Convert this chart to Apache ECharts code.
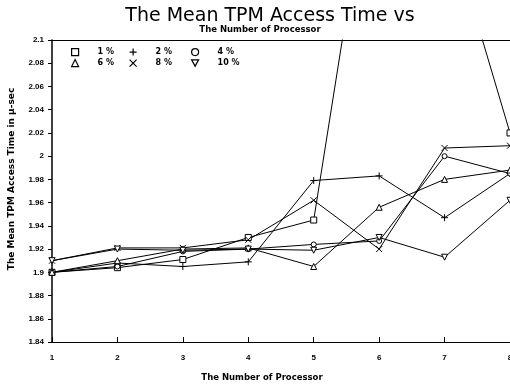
<!DOCTYPE html>
<html><head><meta charset="utf-8">
<script src="https://cdn.jsdelivr.net/npm/echarts@6/dist/echarts.min.js"></script>
<style>html,body{margin:0;padding:0;background:#fff}#c{width:510px;height:387px}</style>
</head><body><div id="c"></div>
<script>
const processors = [1, 2, 3, 4, 5, 6, 7, 8];
const seriesNames = ['1 %', '2 %', '4 %', '6 %', '8 %', '10 %'];
const p1  = [1.900, 1.904, 1.911, 1.930, 1.945, 2.300, 2.210, 2.020];
const p2  = [1.900, 1.908, 1.905, 1.909, 1.979, 1.983, 1.947, 1.985];
const p4  = [1.900, 1.905, 1.918, 1.920, 1.924, 1.927, 2.000, 1.985];
const p6  = [1.900, 1.910, 1.920, 1.921, 1.905, 1.956, 1.980, 1.988];
const p8  = [1.910, 1.921, 1.921, 1.928, 1.962, 1.920, 2.007, 2.009];
const p10 = [1.910, 1.920, 1.919, 1.920, 1.919, 1.930, 1.913, 1.962];
const yTicks = {min: 1.84, max: 2.1, step: 0.02};
const xTicks = {min: 1, max: 8, step: 1};

const values = [p1, p2, p4, p6, p8, p10];
const PLUS = 'path://M5,0L5,10M0,5L10,5';
const CROSS = 'path://M0,0L10,10M10,0L0,10';
const DOWN = 'path://M0,0L10,0L5,9Z';
const symbols = ['rect', PLUS, 'circle', 'triangle', CROSS, DOWN];
const sizes = [6, 7, 5, 6, 6, 6];

const series = seriesNames.map((n, i) => ({
  name: n, type: 'line',
  data: processors.map((x, j) => [x, values[i][j]]),
  symbol: symbols[i], symbolSize: sizes[i],
  showAllSymbol: true, clip: true,
  lineStyle: {color: '#000', width: 1},
  itemStyle: {color: '#fff', borderColor: '#000', borderWidth: 1},
  emphasis: {disabled: true}, animation: false
}));

const legendLeft = [66, 124, 186];
const legends = seriesNames.map((n, i) => ({
  data: [{name: n, icon: symbols[i], itemStyle: {color: '#fff', borderColor: '#000', borderWidth: 1.2}}],
  left: legendLeft[i % 3], top: 43 + Math.floor(i / 3) * 11,
  itemWidth: 7, itemHeight: 7, itemGap: 0, selectedMode: false,
  textStyle: {fontFamily: 'DejaVu Sans', fontSize: 8, fontWeight: 'bold', color: '#000', padding: [0, 0, 0, 14]}
}));

const font = 'DejaVu Sans';
const chart = echarts.init(document.getElementById('c'), null, {renderer: 'canvas'});
chart.setOption({
  backgroundColor: '#fff',
  animation: false,
  title: [
    {text: 'The Mean TPM Access Time vs', left: 265, top: 2, textAlign: 'center',
     textStyle: {fontFamily: 'DejaVu Sans', fontSize: 19, fontWeight: 'normal', color: '#000'}}
  ],
  legend: legends,
  grid: {left: 52, right: 0, top: 40, bottom: 45, containLabel: false, outerBoundsMode: 'none'},
  xAxis: [{
    type: 'value', min: xTicks.min, max: xTicks.max, interval: xTicks.step,
    axisLine: {lineStyle: {color: '#000', width: 1}},
    axisTick: {inside: true, length: 5, lineStyle: {color: '#000'}},
    axisLabel: {fontFamily: 'Liberation Sans', fontSize: 8, fontWeight: 'bold', color: '#000', margin: 12},
    splitLine: {show: false}
  }, {
    type: 'value', position: 'top', min: xTicks.min, max: xTicks.max,
    axisLine: {show: true, lineStyle: {color: '#000', width: 1}},
    axisTick: {show: false}, axisLabel: {show: false}, splitLine: {show: false}
  }],
  yAxis: {
    type: 'value', min: yTicks.min, max: yTicks.max, interval: yTicks.step,
    axisLine: {show: true, lineStyle: {color: '#000', width: 1.5}},
    axisTick: {show: true, inside: false, length: 4, lineStyle: {color: '#000'}},
    axisLabel: {fontFamily: 'Liberation Sans', fontSize: 8, fontWeight: 'bold', color: '#000', margin: 8,
      formatter: v => String(+v.toFixed(2))},
    splitLine: {show: false}
  },
  graphic: [{
    type: 'text', x: 12, y: 179, rotation: Math.PI / 2,
    style: {text: 'The Mean TPM Access Time in μ-sec', fontFamily: font, fontSize: 9, fontWeight: 'bold',
      fill: '#000', align: 'center', verticalAlign: 'middle'}
  }, {
    type: 'text', x: 262, y: 378,
    style: {text: 'The Number of Processor', fontFamily: font, fontSize: 8.5, fontWeight: 'bold',
      fill: '#000', align: 'center', verticalAlign: 'middle'}
  }, {
    type: 'text', x: 260, y: 30,
    style: {text: 'The Number of Processor', fontFamily: font, fontSize: 8.5, fontWeight: 'bold',
      fill: '#000', align: 'center', verticalAlign: 'middle'}
  }],
  series: series
});
</script></body></html>
